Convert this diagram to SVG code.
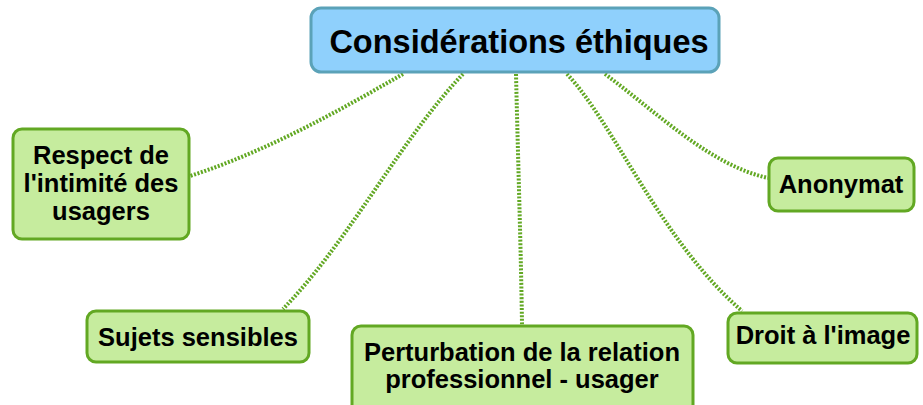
<svg xmlns="http://www.w3.org/2000/svg" width="923" height="405" viewBox="0 0 923 405">
<style>
.main{fill:#8fd0fc;stroke:#5ba2b8;stroke-width:3}
.node{fill:#c6ec9e;stroke:#62a823;stroke-width:3}
.t{font-family:"Liberation Sans",Arial,sans-serif;font-weight:bold;fill:#000;text-anchor:middle}
.tm{font-size:32.5px}
.tn{font-size:25.5px}
.c{fill:none;stroke:#62a823;stroke-width:4;stroke-dasharray:2 1.6}
</style>
<rect width="923" height="405" fill="#fff"/>
<g id="connectors">
<path class="c" d="M403,74 C340,110 270,150 190,176"/>
<path class="c" d="M463,74 C400,140 350,240 283,309"/>
<path class="c" d="M516,74 C518,160 521,250 522,325"/>
<path class="c" d="M567,74 C615,125 660,240 742,311"/>
<path class="c" d="M605,74 C660,115 710,165 768,178"/>
</g>
<g id="central">
<rect class="main" x="311" y="8" width="408" height="64" rx="10"/>
<text class="t tm" x="519" y="53">Considérations éthiques</text>
</g>
<g id="respect">
<rect class="node" x="13" y="129" width="176" height="110" rx="9"/>
<text class="t tn" x="101" y="164">Respect de</text>
<text class="t tn" x="101" y="192">l'intimité des</text>
<text class="t tn" x="101" y="220">usagers</text>
</g>
<g id="anonymat">
<rect class="node" x="769" y="158" width="145" height="53" rx="9"/>
<text class="t tn" x="841" y="193">Anonymat</text>
</g>
<g id="sujets">
<rect class="node" x="87" y="311" width="222" height="51" rx="9"/>
<text class="t tn" x="198" y="346">Sujets sensibles</text>
</g>
<g id="perturbation">
<rect class="node" x="352" y="326" width="341" height="90" rx="9"/>
<text class="t tn" x="522" y="361">Perturbation de la relation</text>
<text class="t tn" x="522" y="388">professionnel - usager</text>
</g>
<g id="droit">
<rect class="node" x="728" y="313" width="189" height="50" rx="9"/>
<text class="t tn" x="823" y="344">Droit à l'image</text>
</g>
</svg>
